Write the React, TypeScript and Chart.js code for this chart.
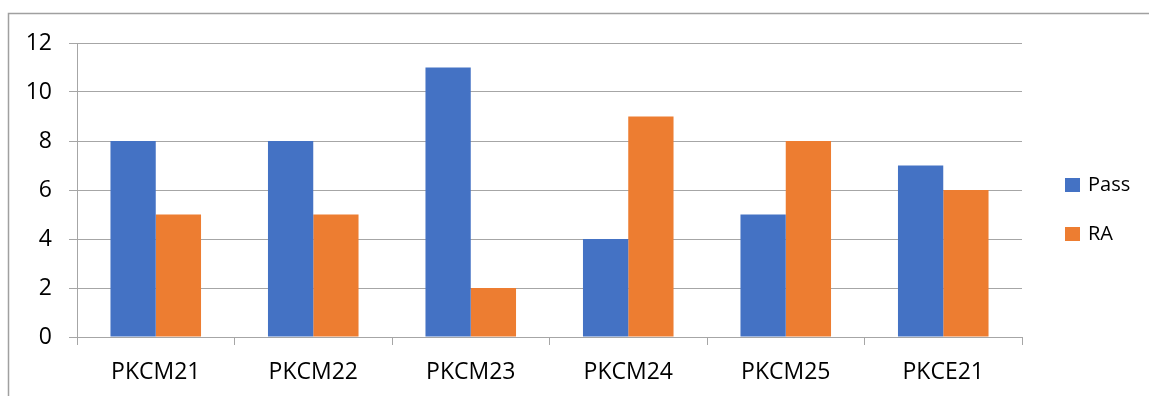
import React, { useEffect, useRef } from "react";
import { Chart, registerables } from "chart.js";

Chart.register(...registerables);

const categories = ["PKCM21", "PKCM22", "PKCM23", "PKCM24", "PKCM25", "PKCE21"];
const passValues = [8, 8, 11, 4, 5, 7];
const raValues = [5, 5, 2, 9, 8, 6];
const seriesNames = ["Pass", "RA"];
const seriesColors = ["#4472C4", "#ED7D31"];
const yTickMax = 12;
const yTickStep = 2;

const FONT = "'Open Sans', sans-serif";

const framePlugin = {
  id: "frame",
  beforeDraw(chart: any) {
    const ctx = chart.ctx;
    ctx.save();
    ctx.fillStyle = "#ffffff";
    ctx.fillRect(0, 0, chart.width, chart.height);
    ctx.strokeStyle = "#a0a0a0";
    ctx.lineWidth = 1.5;
    ctx.beginPath();
    ctx.moveTo(8.5, chart.height + 5);
    ctx.lineTo(8.5, 13.5);
    ctx.lineTo(chart.width + 5, 13.5);
    ctx.stroke();
    ctx.restore();
  },
};

const legendPlugin = {
  id: "sideLegend",
  afterDraw(chart: any) {
    const ctx = chart.ctx;
    ctx.save();
    ctx.font = `20px ${FONT}`;
    ctx.textBaseline = "alphabetic";
    ctx.textAlign = "left";
    chart.data.datasets.forEach((ds: any, i: number) => {
      const top = 178 + i * 48.5;
      ctx.fillStyle = ds.backgroundColor;
      ctx.fillRect(1065, Math.round(top), 15, 14);
      ctx.fillStyle = "#000000";
      ctx.fillText(ds.label, 1088, Math.round(top + 13));
    });
    ctx.restore();
  },
};

export default function App() {
  const ref = useRef<HTMLCanvasElement>(null);
  useEffect(() => {
    if (!ref.current) return;
    const chart = new Chart(ref.current, {
      type: "bar",
      data: {
        labels: categories,
        datasets: [
          { label: seriesNames[0], data: passValues, backgroundColor: seriesColors[0] },
          { label: seriesNames[1], data: raValues, backgroundColor: seriesColors[1] },
        ],
      },
      options: {
        responsive: false,
        animation: false,
        layout: { padding: { left: 0, top: 43, right: 127, bottom: 0 } },
        datasets: { bar: { categoryPercentage: 0.575, barPercentage: 1 } },
        plugins: { legend: { display: false }, tooltip: { enabled: false } },
        scales: {
          x: {
            offset: true,
            afterFit: (s: any) => { s.height = 59; },
            grid: { display: true, drawOnChartArea: false, drawTicks: true, tickLength: 8, color: "#a6a6a6", offset: true },
            border: { display: true, color: "#a6a6a6", width: 1 },
            ticks: { color: "#000000", font: { family: FONT, size: 23 }, padding: 14, maxRotation: 0 },
          },
          y: {
            min: 0,
            max: yTickMax,
            afterFit: (s: any) => { s.width = 77; },
            grid: { color: "#a6a6a6", lineWidth: 1, drawTicks: true, tickLength: 8 },
            border: { display: true, color: "#a6a6a6", width: 1 },
            ticks: { stepSize: yTickStep, color: "#000000", font: { family: FONT, size: 23 }, padding: 17 },
          },
        },
      },
      plugins: [framePlugin, legendPlugin],
    });
    return () => chart.destroy();
  }, []);
  return (
    <div style={{ position: "fixed", left: 0, top: 0, width: 1149, height: 396 }}>
      <canvas ref={ref} width={1149} height={396} />
    </div>
  );
}
